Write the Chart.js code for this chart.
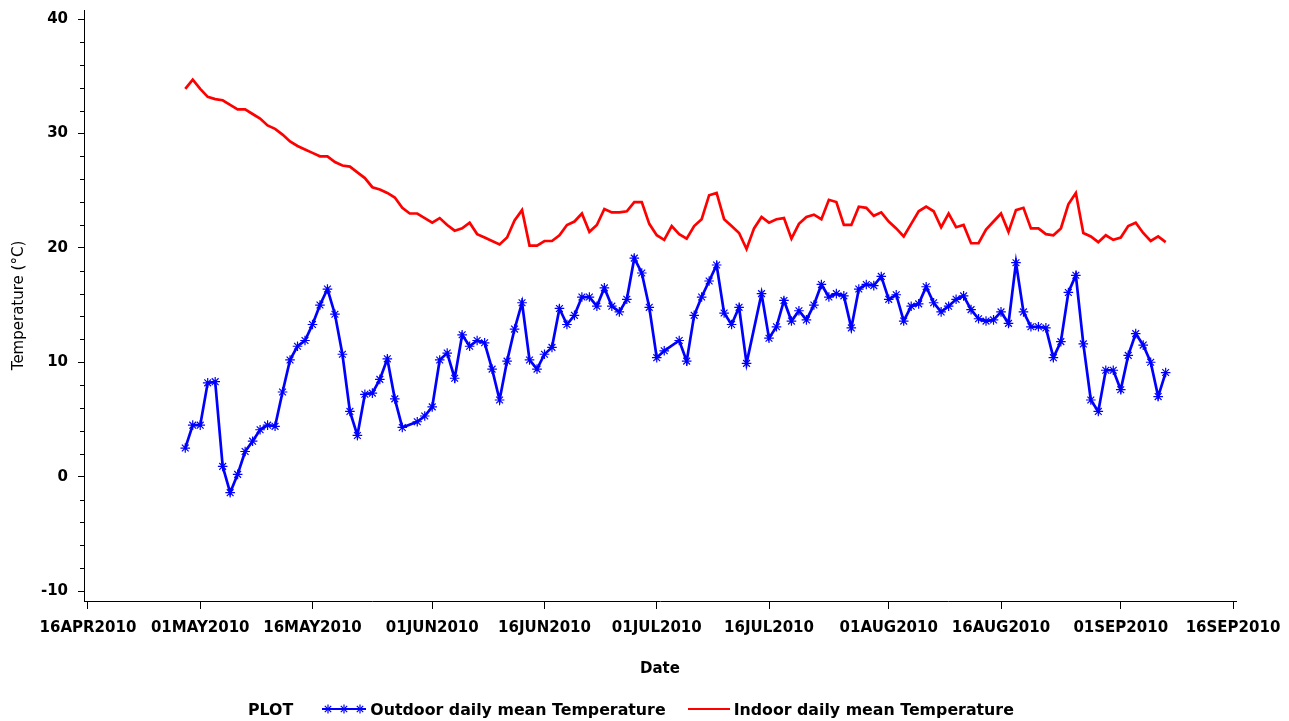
<!DOCTYPE html>
<html>
<head>
<meta charset="utf-8">
<title>Daily mean temperature, 2010</title>
<script src="https://cdn.jsdelivr.net/npm/chart.js@4.4.0/dist/chart.umd.min.js"></script>
<style>
  html, body { margin: 0; padding: 0; background: #fff; }
  #wrap { position: relative; width: 1289px; height: 721px; overflow: hidden; }
  #c { position: absolute; left: 0; top: 0; }
  #legend {
    position: absolute; left: 248px; top: 698px; height: 22px;
    display: flex; align-items: center; white-space: nowrap;
    font: bold 15.8px "DejaVu Sans", sans-serif; color: #000;
  }
  #legend svg { display: block; }
</style>
</head>
<body>
<div id="wrap">
  <canvas id="c" width="1289" height="721"></canvas>
  <div id="legend">
    <span>PLOT</span>
    <svg width="44" height="12" style="margin-left:29px">
      <line x1="0" y1="6" x2="44" y2="6" stroke="#0000ff" stroke-width="2"/>
      <g stroke="#0000ff" stroke-width="1.2" id="ast"></g>
    </svg>
    <span style="margin-left:4px">Outdoor daily mean Temperature</span>
    <svg width="42" height="6" style="margin-left:22px">
      <line x1="0" y1="3" x2="42" y2="3" stroke="#ff0000" stroke-width="2"/>
    </svg>
    <span style="margin-left:4px">Indoor daily mean Temperature</span>
  </div>
</div>
<script>
// Day 0 of the x axis is 16 April 2010; positions are days since then.
const axisStart = Date.UTC(2010, 3, 16);
const firstDate = Date.UTC(2010, 3, 29);   // first daily mean in the series
const DAY = 86400000;

// Outdoor daily mean temperature (°C), one value per day from 29 Apr 2010; null = no reading
const outdoorTemp = [
  2.5, 4.5, 4.5, 8.2, 8.3, 0.9, -1.4, 0.2, 2.2, 3.1,
  4.1, 4.5, 4.4, 7.4, 10.2, 11.4, 11.9, 13.3, 15.0, 16.4,
  14.2, 10.7, 5.7, 3.6, 7.2, 7.3, 8.5, 10.3, 6.8, 4.3,
  null, 4.8, 5.3, 6.1, 10.2, 10.8, 8.6, 12.4, 11.4, 11.9,
  11.7, 9.4, 6.7, 10.1, 12.9, 15.2, 10.2, 9.4, 10.7, 11.3,
  14.7, 13.3, 14.1, 15.7, 15.7, 14.9, 16.5, 14.9, 14.4, 15.5,
  19.1, 17.8, 14.8, 10.4, 11.0, null, 11.9, 10.1, 14.1, 15.7,
  17.1, 18.5, 14.3, 13.3, 14.8, 9.9, null, 16.0, 12.1, 13.1,
  15.4, 13.6, 14.5, 13.7, 15.0, 16.8, 15.7, 16.0, 15.8, 13.0,
  16.4, 16.8, 16.7, 17.5, 15.5, 15.9, 13.6, 14.9, 15.1, 16.6,
  15.2, 14.4, 14.9, 15.5, 15.8, 14.6, 13.8, 13.6, 13.7, 14.4,
  13.4, 18.7, 14.4, 13.1, 13.1, 13.0, 10.4, 11.8, 16.1, 17.6,
  11.6, 6.7, 5.7, 9.3, 9.3, 7.6, 10.6, 12.5, 11.5, 10.0,
  7.0, 9.1
];

// Indoor daily mean temperature (°C), same days
const indoorTemp = [
  33.9, 34.7, 33.9, 33.2, 33.0, 32.9, 32.5, 32.1, 32.1, 31.7,
  31.3, 30.7, 30.4, 29.9, 29.3, 28.9, 28.6, 28.3, 28.0, 28.0,
  27.5, 27.2, 27.1, 26.6, 26.1, 25.3, 25.1, 24.8, 24.4, 23.5,
  23.0, 23.0, 22.6, 22.2, 22.6, 22.0, 21.5, 21.7, 22.2, 21.2,
  20.9, 20.6, 20.3, 20.9, 22.4, 23.3, 20.2, 20.2, 20.6, 20.6,
  21.1, 22.0, 22.3, 23.0, 21.4, 22.0, 23.4, 23.1, 23.1, 23.2,
  24.0, 24.0, 22.1, 21.1, 20.7, 21.9, 21.2, 20.8, 21.9, 22.5,
  24.6, 24.8, 22.5, 21.9, 21.3, 19.9, 21.7, 22.7, 22.2, 22.5,
  22.6, 20.8, 22.1, 22.7, 22.9, 22.5, 24.2, 24.0, 22.0, 22.0,
  23.6, 23.5, 22.8, 23.1, 22.3, 21.7, 21.0, 22.1, 23.2, 23.6,
  23.2, 21.8, 23.0, 21.8, 22.0, 20.4, 20.4, 21.6, 22.3, 23.0,
  21.4, 23.3, 23.5, 21.7, 21.7, 21.2, 21.1, 21.7, 23.8, 24.8,
  21.3, 21.0, 20.5, 21.1, 20.7, 20.9, 21.9, 22.2, 21.3, 20.6,
  21.0, 20.5
];

// Date axis ticks
const xTickLabels = ['16APR2010', '01MAY2010', '16MAY2010', '01JUN2010', '16JUN2010',
  '01JUL2010', '16JUL2010', '01AUG2010', '16AUG2010', '01SEP2010', '16SEP2010'];
const xTickDates = [[2010,3,16],[2010,4,1],[2010,4,16],[2010,5,1],[2010,5,16],
  [2010,6,1],[2010,6,16],[2010,7,1],[2010,7,16],[2010,8,1],[2010,8,16]];

// Temperature axis ticks
const yMajorTicks = [-10, 0, 10, 20, 30, 40];
const yMinorTicks = [-8, -6, -4, -2, 2, 4, 6, 8, 12, 14, 16, 18, 22, 24, 26, 28, 32, 34, 36, 38];

const xTickDays = xTickDates.map(d => (Date.UTC(d[0], d[1], d[2]) - axisStart) / DAY);
const firstDay = (firstDate - axisStart) / DAY;
const toPoints = arr => arr.map((v, i) => ({ x: firstDay + i, y: v }));

// asterisks for the legend sample
(function () {
  const g = document.getElementById('ast');
  const ns = 'http://www.w3.org/2000/svg';
  [6, 22, 38].forEach(cx => {
    [[-4.5, 0, 4.5, 0], [0, -4.5, 0, 4.5], [-3.2, -3.2, 3.2, 3.2], [-3.2, 3.2, 3.2, -3.2]].forEach(s => {
      const l = document.createElementNS(ns, 'line');
      l.setAttribute('x1', cx + s[0]); l.setAttribute('y1', 6 + s[1]);
      l.setAttribute('x2', cx + s[2]); l.setAttribute('y2', 6 + s[3]);
      g.appendChild(l);
    });
  });
})();

// short ticks between the labelled temperatures
const minorTickPlugin = {
  id: 'minorTicks',
  afterDraw(chart) {
    const y = chart.scales.y;
    const ctx = chart.ctx;
    ctx.save();
    ctx.strokeStyle = '#000';
    ctx.lineWidth = 1;
    yMinorTicks.forEach(v => {
      const p = Math.round(y.getPixelForValue(v)) + 0.5;
      ctx.beginPath();
      ctx.moveTo(y.right - 4, p);
      ctx.lineTo(y.right, p);
      ctx.stroke();
    });
    ctx.restore();
  }
};

const tickFont = { family: 'DejaVu Sans', size: 15, weight: 'bold' };

new Chart(document.getElementById('c'), {
  type: 'line',
  data: {
    datasets: [
      {
        label: 'Outdoor daily mean Temperature',
        data: toPoints(outdoorTemp),
        borderColor: '#0000ff',
        borderWidth: 2.7,
        pointStyle: 'star',
        pointRadius: 4.8,
        pointBorderWidth: 1.2,
        pointBorderColor: '#0000ff',
        pointBackgroundColor: '#0000ff',
        spanGaps: true,
        tension: 0
      },
      {
        label: 'Indoor daily mean Temperature',
        data: toPoints(indoorTemp),
        borderColor: '#ff0000',
        borderWidth: 2.7,
        pointRadius: 0,
        spanGaps: true,
        tension: 0
      }
    ]
  },
  options: {
    responsive: false,
    animation: false,
    devicePixelRatio: 1,
    layout: { padding: { left: 0, right: 53, top: 10, bottom: 0 } },
    plugins: { legend: { display: false }, tooltip: { enabled: false } },
    scales: {
      x: {
        type: 'linear',
        min: -0.53,
        max: 153.4,
        afterBuildTicks: s => { s.ticks = xTickDays.map(v => ({ value: v })); },
        afterFit: s => { s.height = 120; s.paddingLeft = 0; s.paddingRight = 0; },
        ticks: {
          callback: (v, i) => xTickLabels[i],
          font: tickFont, color: '#000', padding: 10,
          maxRotation: 0, minRotation: 0, autoSkip: false
        },
        grid: { drawOnChartArea: false, drawTicks: true, tickLength: 8, tickColor: '#000' },
        border: { display: true, color: '#000', width: 1 },
        title: {
          display: true, text: 'Date', color: '#000',
          font: tickFont, padding: { top: 0, bottom: 43 }
        }
      },
      y: {
        type: 'linear',
        min: -10.87,
        max: 40.79,
        afterBuildTicks: s => { s.ticks = yMajorTicks.map(v => ({ value: v })); },
        afterFit: s => { s.width = 84; s.paddingTop = 0; s.paddingBottom = 0; },
        ticks: { font: tickFont, color: '#000', padding: 10, autoSkip: false },
        grid: { drawOnChartArea: false, drawTicks: true, tickLength: 6, tickColor: '#000' },
        border: { display: true, color: '#000', width: 1 },
        title: {
          display: true, text: 'Temperature (°C)', color: '#000',
          font: { family: 'DejaVu Sans', size: 15 }, padding: { top: 10, bottom: 0 }
        }
      }
    }
  },
  plugins: [minorTickPlugin]
});
</script>
</body>
</html>
